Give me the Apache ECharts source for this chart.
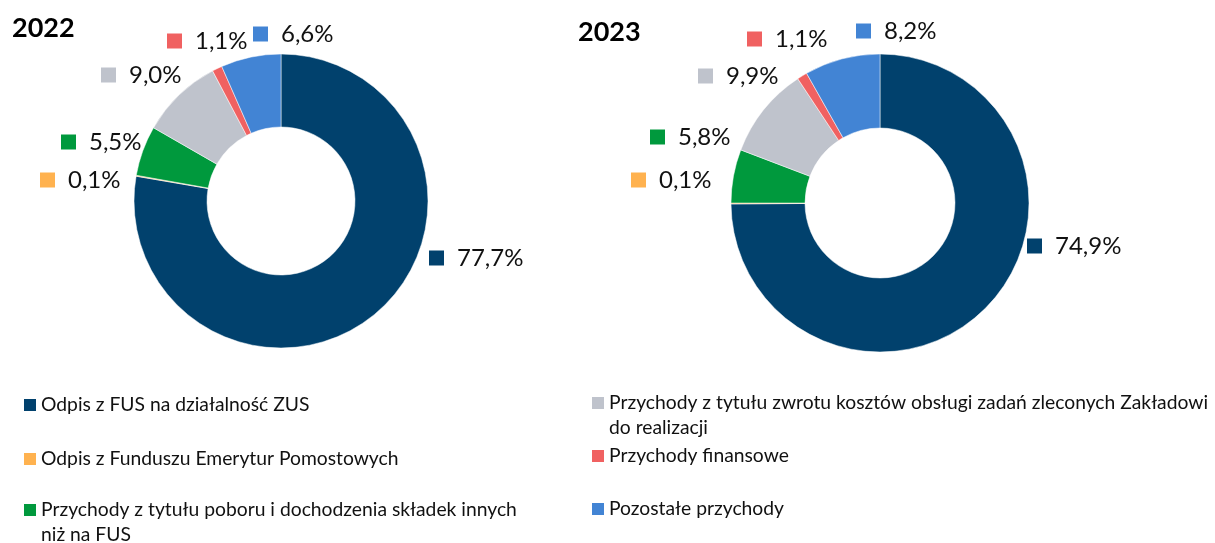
<!DOCTYPE html>
<html>
<head>
<meta charset="utf-8">
<title>Przychody 2022 / 2023</title>
<script src="https://cdn.jsdelivr.net/npm/echarts@6/dist/echarts.min.js"></script>
<style>
  html, body { margin: 0; background: #fff; }
  #chart { width: 1215px; height: 543px; }
</style>
</head>
<body>
<div id="chart"></div>
<script>
// --- data ---
var years = ['2022', '2023'];
var categories = [
  'Odpis z FUS na działalność ZUS',
  'Odpis z Funduszu Emerytur Pomostowych',
  'Przychody z tytułu poboru i dochodzenia składek innych niż na FUS',
  'Przychody z tytułu zwrotu kosztów obsługi zadań zleconych Zakładowi do realizacji',
  'Przychody finansowe',
  'Pozostałe przychody'
];
var legendText = [
  'Odpis z FUS na działalność ZUS',
  'Odpis z Funduszu Emerytur Pomostowych',
  'Przychody z tytułu poboru i dochodzenia składek innych\nniż na FUS',
  'Przychody z tytułu zwrotu kosztów obsługi zadań zleconych Zakładowi\ndo realizacji',
  'Przychody finansowe',
  'Pozostałe przychody'
];
var values2022 = [77.7, 0.1, 5.5, 9.0, 1.1, 6.6];
var values2023 = [74.9, 0.1, 5.8, 9.9, 1.1, 8.2];

// --- look ---
var colors = ['#01416D', '#FFB24F', '#00993D', '#BFC3CC', '#F06161', '#4284D4'];
var font = 'Lato';

// where the original report put the value labels (marker left edge, middle)
var labelPos = [
  [[429, 258], [40, 180], [61, 142], [101, 75], [167, 41], [253, 34]],
  [[1027, 246], [631, 180], [650, 137], [698, 76], [747, 39], [856, 31]]
];
var pies = [
  { center: [281, 201], radius: [74, 147] },
  { center: [880, 203], radius: [75, 149] }
];
var legendPos = [[24, 405], [24, 459], [24, 510], [592, 403], [592, 456], [592, 509]];
var lineH = 25;

function fmt(v) {
  return v.toFixed(1).replace('.', ',') + '%';
}

var rich = { v: { fontFamily: font, fontSize: 24, color: '#111', padding: [0, 0, 0, 13], verticalAlign: 'middle' } };
colors.forEach(function (c, i) {
  rich['m' + i] = { width: 15, height: 15, backgroundColor: c, verticalAlign: 'middle' };
});

var chart = echarts.init(document.getElementById('chart'));

var series = [values2022, values2023].map(function (vals, s) {
  return {
    type: 'pie',
    name: years[s],
    center: pies[s].center,
    radius: pies[s].radius,
    startAngle: 90,
    clockwise: true,
    avoidLabelOverlap: false,
    emphasis: { disabled: true },
    itemStyle: { borderColor: '#fff', borderWidth: 0.5 },
    data: categories.map(function (n, i) { return { name: n, value: vals[i] }; }),
    label: {
      show: true,
      position: 'outside',
      formatter: function (p) { return '{m' + p.dataIndex + '|}{v|' + fmt(p.value) + '}'; },
      rich: rich
    },
    labelLine: { show: false },
    labelLayout: function (p) {
      var xy = labelPos[s][p.dataIndex];
      return { x: xy[0], y: xy[1], align: 'left', verticalAlign: 'middle' };
    }
  };
});

// two-line legend entries: square sits at the top of a taller (invisible) icon box,
// so it lines up with the first text line
var legends = categories.map(function (n, i) {
  var wrapped = legendText[i].indexOf('\n') >= 0;
  return {
    data: [n],
    left: legendPos[i][0],
    top: legendPos[i][1] - lineH / 2,
    padding: 0,
    icon: wrapped ? 'path://M0,0L12,0L12,12L0,12Z M0,' + (12 + lineH) + 'L12,' + (12 + lineH) : 'rect',
    itemWidth: 12,
    itemHeight: wrapped ? 12 + lineH : 12,
    itemStyle: { borderWidth: 0 },
    selectedMode: false,
    formatter: function () { return legendText[i]; },
    textStyle: {
      fontFamily: font,
      fontSize: 19.3,
      color: '#111',
      lineHeight: lineH
    }
  };
});

chart.setOption({
  animation: false,
  color: colors,
  title: [
    { text: '2022', left: 12, top: 15, padding: 0, textStyle: { fontFamily: font, fontWeight: 'bold', fontSize: 27, color: '#000' } },
    { text: '2023', left: 578, top: 19, padding: 0, textStyle: { fontFamily: font, fontWeight: 'bold', fontSize: 27, color: '#000' } }
  ],
  legend: legends,
  series: series
});
</script>
</body>
</html>
